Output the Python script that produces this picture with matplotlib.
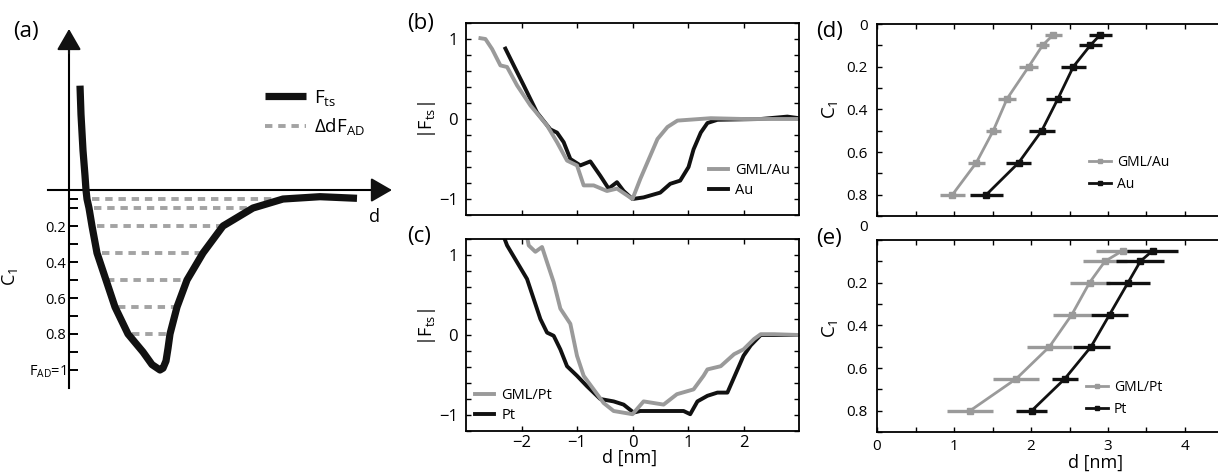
import numpy as np
import matplotlib
matplotlib.use("Agg")
import matplotlib.pyplot as plt
from matplotlib.ticker import MultipleLocator

plt.rcParams['font.family'] = ['Open Sans', 'DejaVu Sans']
plt.rcParams['mathtext.default'] = 'regular'

# ---------------- data ----------------
# (a) schematic force curve, arbitrary d units, C_1 on the vertical axis
sketch_d = [1.1, 1.2, 1.4, 1.6, 1.7, 1.8, 2.0, 2.3, 2.8, 3.7, 4.6, 5.9, 7.4, 8.3, 9.1,
            9.4, 9.7, 9.9, 10.1, 10.8, 11.8, 13.4, 15.4, 18.4, 21.4, 25.1, 28.8]
sketch_c = [-0.58, -0.42, -0.22, -0.08, 0.0, 0.05, 0.1, 0.2, 0.35, 0.5, 0.65, 0.8, 0.9, 0.97, 1.0,
            0.99, 0.95, 0.88, 0.8, 0.65, 0.5, 0.35, 0.2, 0.1, 0.05, 0.037, 0.046]
c_levels = [0.05, 0.1, 0.2, 0.35, 0.5, 0.65, 0.8]
dash_start = [2.3, 2.5, 2.8, 3.3, 3.8, 4.9, 6.3]
dash_end = [21.4, 18.4, 15.4, 13.4, 11.8, 10.8, 10.1]
a_ticks = [0.05, 0.1, 0.2, 0.3, 0.4, 0.5, 0.6, 0.7, 0.8, 0.9, 1.0]
a_ticklabels = ['', '', '0.2', '', '0.4', '', '0.6', '', '0.8', '', 'F$_{AD}$=1']

# (b) Au substrate
gml_au_d = [-2.74, -2.65, -2.53, -2.38, -2.26, -2.08, -1.84, -1.54, -1.36, -1.18, -1.0, -0.88,
            -0.70, -0.46, -0.28, 0.0, 0.14, 0.32, 0.45, 0.63, 0.81, 1.41, 2.0, 2.9, 3.0]
gml_au_f = [1.01, 1.0, 0.875, 0.67, 0.65, 0.42, 0.17, -0.08, -0.29, -0.52, -0.58, -0.83,
            -0.83, -0.9, -0.87, -1.0, -0.75, -0.46, -0.25, -0.10, -0.02, 0.01, 0.0, 0.0, 0.0]
au_d = [-2.29, -2.14, -1.96, -1.72, -1.48, -1.36, -1.24, -1.12, -0.94, -0.76, -0.58, -0.43,
        -0.28, -0.16, 0.0, 0.2, 0.5, 0.68, 0.86, 1.01, 1.10, 1.23, 1.35, 1.53, 2.31, 2.79, 3.0]
au_f = [0.88, 0.67, 0.42, 0.08, -0.13, -0.17, -0.29, -0.5, -0.58, -0.53, -0.71, -0.87,
        -0.79, -0.9, -1.0, -0.98, -0.92, -0.81, -0.77, -0.60, -0.38, -0.17, -0.05, -0.01, 0.0, 0.03, 0.01]

# (c) Pt substrate
gml_pt_d = [-1.90, -1.87, -1.75, -1.63, -1.54, -1.42, -1.30, -1.12, -1.0, -0.88, -0.70, -0.52,
            -0.34, 0.0, 0.20, 0.56, 0.80, 1.10, 1.28, 1.35, 1.59, 1.83, 2.0, 2.19, 2.31, 2.55, 3.0]
gml_pt_f = [1.23, 1.12, 1.04, 1.10, 0.91, 0.66, 0.33, 0.14, -0.26, -0.51, -0.68, -0.85,
            -0.95, -0.99, -0.83, -0.87, -0.74, -0.68, -0.51, -0.43, -0.39, -0.24, -0.18, -0.05, 0.01, 0.01, 0.0]
pt_d = [-2.32, -2.26, -2.08, -1.90, -1.78, -1.66, -1.54, -1.42, -1.30, -1.18, -1.0, -0.82, -0.58,
        -0.34, -0.16, 0.02, 0.14, 0.5, 0.92, 1.04, 1.17, 1.35, 1.53, 1.71, 1.83, 2.0, 2.13, 2.31, 3.0]
pt_f = [1.23, 1.12, 0.91, 0.70, 0.45, 0.20, 0.03, -0.01, -0.18, -0.39, -0.51, -0.64, -0.80,
        -0.83, -0.87, -0.97, -0.95, -0.95, -0.95, -0.99, -0.83, -0.76, -0.72, -0.72, -0.53, -0.26, -0.13, 0.0, 0.0]
f_ticks = [-1, 0, 1]
d_ticks = [-2, -1, 0, 1, 2]

# (d), (e) distance at each C_1 level, with spread
gml_au_x = [2.29, 2.15, 1.97, 1.69, 1.51, 1.29, 0.98]
gml_au_err = [0.11, 0.08, 0.12, 0.12, 0.10, 0.11, 0.16]
au_x = [2.90, 2.77, 2.55, 2.35, 2.14, 1.84, 1.42]
au_err = [0.15, 0.15, 0.16, 0.16, 0.17, 0.16, 0.21]
gml_pt_x = [3.19, 2.96, 2.76, 2.53, 2.24, 1.81, 1.21]
gml_pt_err = [0.35, 0.29, 0.26, 0.25, 0.29, 0.30, 0.30]
pt_x = [3.58, 3.42, 3.26, 3.02, 2.78, 2.44, 2.01]
pt_err = [0.33, 0.31, 0.28, 0.24, 0.24, 0.17, 0.20]
c_ticks = [0, 0.2, 0.4, 0.6, 0.8]
c_ticklabels = ['0', '0.2', '0.4', '0.6', '0.8']
x_ticks = [0, 1, 2, 3, 4]

GRAY = '#9a9a9a'
BLACK = '#111111'
W, H = 1218, 475


def box(left, top, right, bottom):
    """pixel box -> figure fraction [l, b, w, h]"""
    return [left / W, 1 - bottom / H, (right - left) / W, (bottom - top) / H]


def figpt(x, y):
    return (x / W, 1 - y / H)


fig = plt.figure(figsize=(W / 100, H / 100), dpi=100)

# ---------------- (a) schematic ----------------
ax_a = fig.add_axes(box(40, 25, 400, 395))
ax_a.set_xlim(-2.9, 33.1)
ax_a.set_ylim(1.139, -0.917)
for i, (c, d0, d1) in enumerate(zip(c_levels, dash_start, dash_end)):
    ax_a.plot([d0, d1], [c, c], color='#a3a3a3', lw=2.8, dashes=(1.9, 1.5),
              dash_capstyle='butt', zorder=2,
              label='$\\Delta$dF$_{AD}$' if i == 0 else None)
ax_a.plot(sketch_d, sketch_c, color=BLACK, lw=5.2, solid_capstyle='butt',
          solid_joinstyle='round', zorder=3, label='F$_{ts}$')

ax_a.spines[['top', 'right']].set_visible(False)
ax_a.spines['left'].set_position(('data', 0))
ax_a.spines['bottom'].set_position(('data', 0))
ax_a.spines['left'].set_bounds(-0.78, 1.1)
ax_a.spines['bottom'].set_bounds(-2.1, 30.6)
for sp in ('left', 'bottom'):
    ax_a.spines[sp].set_linewidth(1.5)
ax_a.annotate('', xy=(0, -0.895), xytext=(0, -0.76),
              arrowprops=dict(arrowstyle='-|>,head_length=1.3,head_width=0.75',
                              color=BLACK, lw=1.5, shrinkA=0, shrinkB=0))
ax_a.annotate('', xy=(32.3, 0), xytext=(30.4, 0),
              arrowprops=dict(arrowstyle='-|>,head_length=1.3,head_width=0.75',
                              color=BLACK, lw=1.5, shrinkA=0, shrinkB=0))
ax_a.set_xticks([])
ax_a.set_yticks(a_ticks)
ax_a.set_yticklabels(a_ticklabels)
ax_a.tick_params(axis='y', direction='in', length=6.5, width=1.4, pad=2, labelsize=10.5)
ax_a.set_ylabel('C$_1$', fontsize=13)
ax_a.yaxis.set_label_coords(-0.056, 0.319)
ax_a.set_xlabel('d', fontsize=13)
ax_a.xaxis.set_label_coords(0.93, 0.505)
h, l = ax_a.get_legend_handles_labels()
ax_a.legend(h[::-1], l[::-1], loc='upper left', bbox_to_anchor=figpt(265, 88),
            bbox_transform=fig.transFigure, frameon=False, fontsize=13.5,
            handlelength=2.2, handletextpad=0.4, labelspacing=0.45,
            borderpad=0, borderaxespad=0)


def style_force(ax):
    ax.set_xlim(-3, 3)
    ax.set_ylim(-1.2, 1.2)
    ax.set_xticks(d_ticks)
    ax.set_yticks(f_ticks)
    ax.yaxis.set_minor_locator(MultipleLocator(0.2))
    ax.tick_params(which='both', direction='in', top=True, right=True,
                   length=3.6, width=1.0, labelsize=12, pad=6)
    ax.tick_params(axis='x', pad=3)
    for sp in ax.spines.values():
        sp.set_linewidth(1.3)


# ---------------- (b) ----------------
ax_b = fig.add_axes(box(466, 23, 799, 215))
lb_black, = ax_b.plot(au_d, au_f, color=BLACK, lw=2.8, label='Au')
lb_gray, = ax_b.plot(gml_au_d, gml_au_f, color=GRAY, lw=2.8, label='GML/Au')
style_force(ax_b)
ax_b.tick_params(labelbottom=False)
ax_b.set_ylabel('|F$_{ts}$|', fontsize=13)
ax_b.yaxis.set_label_coords(-0.084, 0.495)
ax_b.legend([lb_gray, lb_black], ['GML/Au', 'Au'], loc='upper left',
            bbox_to_anchor=figpt(709, 163), bbox_transform=fig.transFigure,
            frameon=False, fontsize=10.5, handlelength=1.3, handletextpad=0.5,
            labelspacing=0.35, borderpad=0, borderaxespad=0)

# ---------------- (c) ----------------
ax_c = fig.add_axes(box(466, 239, 799, 431))
lc_black, = ax_c.plot(pt_d, pt_f, color=BLACK, lw=2.8, label='Pt')
lc_gray, = ax_c.plot(gml_pt_d, gml_pt_f, color=GRAY, lw=2.8, label='GML/Pt')
style_force(ax_c)
ax_c.set_ylabel('|F$_{ts}$|', fontsize=13)
ax_c.yaxis.set_label_coords(-0.084, 0.54)
ax_c.set_xlabel('d [nm]', fontsize=13)
ax_c.xaxis.set_label_coords(0.492, -0.095)
ax_c.legend([lc_gray, lc_black], ['GML/Pt', 'Pt'], loc='upper left',
            bbox_to_anchor=figpt(475, 388), bbox_transform=fig.transFigure,
            frameon=False, fontsize=10.5, handlelength=1.3, handletextpad=0.5,
            labelspacing=0.35, borderpad=0, borderaxespad=0)


def style_c1(ax):
    ax.set_xlim(0, 5.5)
    ax.set_ylim(0.9, 0)
    ax.set_xticks(x_ticks)
    ax.xaxis.set_minor_locator(MultipleLocator(0.5))
    ax.set_yticks(c_ticks)
    ax.yaxis.set_minor_locator(MultipleLocator(0.1))
    ax.tick_params(which='both', direction='in', top=True, right=True,
                   length=3.6, width=1.0, labelsize=11)
    ax.tick_params(axis='y', pad=6.5)
    ax.tick_params(axis='x', pad=5)
    for sp in ax.spines.values():
        sp.set_linewidth(1.3)


def draw_c1(ax, x, err, color, label):
    ax.errorbar(x, c_levels, xerr=err, fmt='none', ecolor=color, elinewidth=2.4, capsize=0)
    line, = ax.plot(x, c_levels, '-s', color=color, lw=2.0, ms=5, label=label)
    return line


AX_R = 877 + 5.5 * 77

# ---------------- (d) ----------------
ax_d = fig.add_axes(box(877, 24, AX_R, 216))
ld_gray = draw_c1(ax_d, gml_au_x, gml_au_err, GRAY, 'GML/Au')
ld_black = draw_c1(ax_d, au_x, au_err, BLACK, 'Au')
style_c1(ax_d)
ax_d.set_yticklabels(c_ticklabels)
ax_d.tick_params(labelbottom=False)
ax_d.set_ylabel('C$_1$', fontsize=13.5)
ax_d.yaxis.set_label_coords(-0.087, 0.552)
ax_d.legend([ld_gray, ld_black], ['GML/Au', 'Au'], loc='upper left',
            bbox_to_anchor=figpt(1089, 155), bbox_transform=fig.transFigure,
            frameon=False, fontsize=10, handlelength=1.6, handletextpad=0.4,
            labelspacing=0.5, borderpad=0, borderaxespad=0, markerscale=0.7)

# ---------------- (e) ----------------
ax_e = fig.add_axes(box(877, 240, AX_R, 432))
le_gray = draw_c1(ax_e, gml_pt_x, gml_pt_err, GRAY, 'GML/Pt')
le_black = draw_c1(ax_e, pt_x, pt_err, BLACK, 'Pt')
style_c1(ax_e)
ax_e.set_yticklabels([''] + c_ticklabels[1:])
ax_e.annotate(c_ticklabels[0], xy=(0, 0), xycoords=('axes fraction', 'data'),
              xytext=(-6.5, 9), textcoords='offset points', ha='right', va='center',
              fontsize=11)
ax_e.set_ylabel('C$_1$', fontsize=13.5)
ax_e.yaxis.set_label_coords(-0.087, 0.536)
ax_e.set_xlabel('d [nm]', fontsize=13)
ax_e.xaxis.set_label_coords(0.515, -0.115)
ax_e.legend([le_gray, le_black], ['GML/Pt', 'Pt'], loc='upper left',
            bbox_to_anchor=figpt(1086, 380), bbox_transform=fig.transFigure,
            frameon=False, fontsize=10, handlelength=1.6, handletextpad=0.4,
            labelspacing=0.5, borderpad=0, borderaxespad=0, markerscale=0.7)

# panel letters
for letter, x, y in [('(a)', 13, 31), ('(b)', 407, 24), ('(c)', 407, 237),
                     ('(d)', 816, 32), ('(e)', 816, 238)]:
    fig.text(*figpt(x, y), letter, fontsize=16, va='center', ha='left')

fig.savefig('out.png', dpi=100)
